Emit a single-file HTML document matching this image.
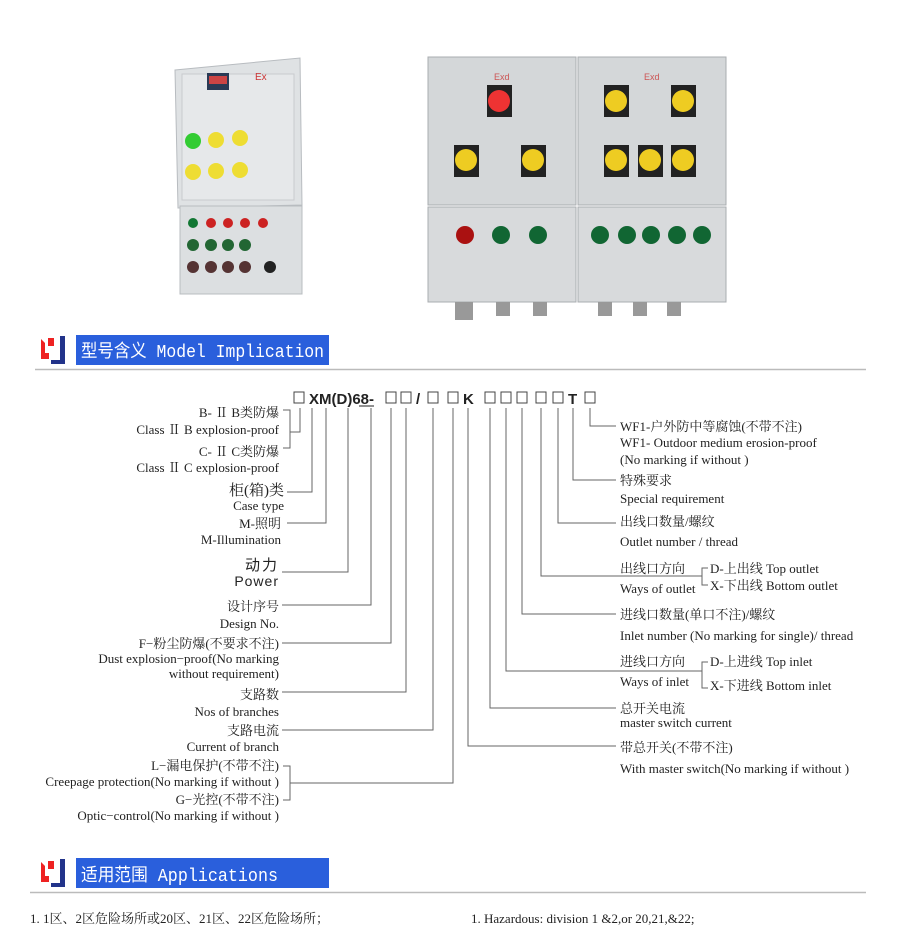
<!DOCTYPE html>
<html><head><meta charset="utf-8"><style>
html,body{margin:0;padding:0;background:#fff;}
svg{display:block}
.s{font-family:"Liberation Serif","Noto Serif CJK SC",serif;font-size:13px;fill:#222}
.h{font-family:"Liberation Mono","Noto Sans CJK SC",monospace;font-size:18px;fill:#fff}
</style></head><body>
<svg width="900" height="931" viewBox="0 0 900 931" xmlns="http://www.w3.org/2000/svg">
<g>
<polygon points="175,70 300,58 302,205 178,208" fill="#dfe2e4" stroke="#b8bcc0"/>
<rect x="182" y="74" width="112" height="126" fill="#e6e8ea" stroke="#c8cbce"/>
<rect x="207" y="73" width="22" height="17" fill="#2a3a55"/>
<rect x="209" y="76" width="18" height="8" fill="#c44"/>
<text x="255" y="80" fill="#c33" font-size="10" font-family="Liberation Sans">Ex</text>
<circle cx="193" cy="141" r="8" fill="#3c3"/><circle cx="216" cy="140" r="8" fill="#ed3"/><circle cx="240" cy="138" r="8" fill="#ed3"/>
<circle cx="193" cy="172" r="8" fill="#ed3"/><circle cx="216" cy="171" r="8" fill="#ed3"/><circle cx="240" cy="170" r="8" fill="#ed3"/>
<rect x="180" y="206" width="122" height="88" fill="#dcdfe1" stroke="#b8bcc0"/>
<g fill="#c22"><circle cx="211" cy="223" r="5"/><circle cx="228" cy="223" r="5"/><circle cx="245" cy="223" r="5"/><circle cx="263" cy="223" r="5"/></g>
<circle cx="193" cy="223" r="5" fill="#173"/>
<g fill="#263"><circle cx="193" cy="245" r="6"/><circle cx="211" cy="245" r="6"/><circle cx="228" cy="245" r="6"/><circle cx="245" cy="245" r="6"/></g>
<g fill="#533"><circle cx="193" cy="267" r="6"/><circle cx="211" cy="267" r="6"/><circle cx="228" cy="267" r="6"/><circle cx="245" cy="267" r="6"/><circle cx="270" cy="267" r="6" fill="#222"/></g>
</g>
<g>
<rect x="428" y="57" width="148" height="148" fill="#d4d7d9" stroke="#a9adb0"/>
<rect x="578" y="57" width="148" height="148" fill="#d4d7d9" stroke="#a9adb0"/>
<rect x="428" y="207" width="148" height="95" fill="#d8dadc" stroke="#a9adb0"/>
<rect x="578" y="207" width="148" height="95" fill="#d8dadc" stroke="#a9adb0"/>
<text x="494" y="80" fill="#c55" font-size="9" font-family="Liberation Sans">Exd</text>
<text x="644" y="80" fill="#c55" font-size="9" font-family="Liberation Sans">Exd</text>
<rect x="487" y="85" width="25" height="32" fill="#222"/><circle cx="499" cy="101" r="11" fill="#e33"/>
<rect x="454" y="145" width="25" height="32" fill="#222"/><circle cx="466" cy="160" r="11" fill="#ec2"/>
<rect x="521" y="145" width="25" height="32" fill="#222"/><circle cx="533" cy="160" r="11" fill="#ec2"/>
<rect x="604" y="85" width="25" height="32" fill="#222"/><circle cx="616" cy="101" r="11" fill="#ec2"/>
<rect x="671" y="85" width="25" height="32" fill="#222"/><circle cx="683" cy="101" r="11" fill="#ec2"/>
<rect x="604" y="145" width="25" height="32" fill="#222"/><circle cx="616" cy="160" r="11" fill="#ec2"/>
<rect x="638" y="145" width="25" height="32" fill="#222"/><circle cx="650" cy="160" r="11" fill="#ec2"/>
<rect x="671" y="145" width="25" height="32" fill="#222"/><circle cx="683" cy="160" r="11" fill="#ec2"/>
<circle cx="465" cy="235" r="9" fill="#a11"/><circle cx="501" cy="235" r="9" fill="#163"/><circle cx="538" cy="235" r="9" fill="#163"/>
<circle cx="600" cy="235" r="9" fill="#163"/><circle cx="627" cy="235" r="9" fill="#163"/><circle cx="651" cy="235" r="9" fill="#163"/><circle cx="677" cy="235" r="9" fill="#163"/><circle cx="702" cy="235" r="9" fill="#163"/>
<g fill="#999"><rect x="455" y="302" width="18" height="18"/><rect x="496" y="302" width="14" height="14"/><rect x="533" y="302" width="14" height="14"/><rect x="598" y="302" width="14" height="14"/><rect x="633" y="302" width="14" height="14"/><rect x="667" y="302" width="14" height="14"/></g>
</g>

<path d="M41 339 v20 h8 v-6 h-4 v-10 z M48 338 h6 v8 h-6 z" fill="#e22"/>
<path d="M60 336 h5 v28 h-14 v-4 h9 z" fill="#22338a"/>
<rect x="76" y="335" width="253" height="30" fill="#2a5fdc"/>
<text x="81" y="357" class="h" textLength="243" lengthAdjust="spacingAndGlyphs">型号含义 Model Implication</text>
<line x1="35" y1="369.5" x2="866" y2="369.5" stroke="#bbb" stroke-width="1.5"/>

<g font-family="Liberation Sans" font-size="15" font-weight="bold" fill="#222">
<text x="309" y="404">XM(D)68-</text>
<text x="416" y="404">/</text><text x="463" y="404">K</text><text x="568" y="404">T</text>
</g>
<line x1="359" y1="406" x2="374" y2="406" stroke="#222"/>
<g fill="none" stroke="#444" stroke-width="1">
<rect x="294" y="392" width="10" height="11"/><rect x="386" y="392" width="10" height="11"/><rect x="401" y="392" width="10" height="11"/>
<rect x="428" y="392" width="10" height="11"/><rect x="448" y="392" width="10" height="11"/>
<rect x="485" y="392" width="10" height="11"/><rect x="501" y="392" width="10" height="11"/><rect x="517" y="392" width="10" height="11"/><rect x="536" y="392" width="10" height="11"/><rect x="553" y="392" width="10" height="11"/>
<rect x="585" y="392" width="10" height="11"/>
</g>
<g fill="none" stroke="#666" stroke-width="1">
<path d="M300 408 V432 H290"/>
<path d="M283 410 H290 V448 H283"/>
<path d="M312 408 V492 H287"/>
<path d="M326 408 V523 H287"/>
<path d="M348 408 V572 H282"/>
<path d="M371 408 V605 H282"/>
<path d="M391 408 V643 H282"/>
<path d="M406 408 V692 H282"/>
<path d="M433 408 V730 H282"/>
<path d="M453 408 V783 H290"/>
<path d="M283 766 H290 V800 H283"/>
<path d="M468 408 V746 H616"/>
<path d="M490 408 V708 H616"/>
<path d="M506 408 V671 H702"/>
<path d="M708 662 H702 V688 H708"/>
<path d="M522 408 V614 H616"/>
<path d="M541 408 V576 H702"/>
<path d="M708 568 H702 V585 H708"/>
<path d="M558 408 V523 H616"/>
<path d="M573 408 V480 H616"/>
<path d="M590 408 V426 H616"/>
</g>
<g class="s" text-anchor="end">
<text x="279" y="417">B- Ⅱ B类防爆</text>
<text x="279" y="434">Class Ⅱ B  explosion-proof</text>
<text x="279" y="456">C- Ⅱ C类防爆</text>
<text x="279" y="472">Class Ⅱ C  explosion-proof</text>
<text x="284" y="495" font-size="15">柜(箱)类</text>
<text x="284" y="510">Case type</text>
<text x="281" y="528">M-照明</text>
<text x="281" y="544">M-Illumination</text>
<text x="279" y="570" font-family="Liberation Sans,Noto Sans CJK SC,sans-serif" font-size="15" letter-spacing="2">动力</text>
<text x="279" y="586" font-family="Liberation Sans,sans-serif" font-size="14" letter-spacing="1">Power</text>
<text x="279" y="611">设计序号</text>
<text x="279" y="628">Design No.</text>
<text x="279" y="648">F−粉尘防爆(不要求不注)</text>
<text x="279" y="663">Dust explosion−proof(No marking</text>
<text x="279" y="678">without requirement)</text>
<text x="279" y="699">支路数</text>
<text x="279" y="716">Nos of branches</text>
<text x="279" y="735">支路电流</text>
<text x="279" y="751">Current of branch</text>
<text x="279" y="770">L−漏电保护(不带不注)</text>
<text x="279" y="786">Creepage protection(No marking  if without )</text>
<text x="279" y="804">G−光控(不带不注)</text>
<text x="279" y="820">Optic−control(No marking  if without )</text>
</g>
<g class="s">
<text x="620" y="431">WF1-户外防中等腐蚀(不带不注)</text>
<text x="620" y="447">WF1- Outdoor medium erosion-proof</text>
<text x="620" y="464">(No marking  if without )</text>
<text x="620" y="485">特殊要求</text>
<text x="620" y="503">Special requirement</text>
<text x="620" y="526">出线口数量/螺纹</text>
<text x="620" y="546">Outlet number / thread</text>
<text x="620" y="573">出线口方向</text>
<text x="620" y="593">Ways of outlet</text>
<text x="710" y="573">D-上出线  Top outlet</text>
<text x="710" y="590">X-下出线  Bottom  outlet</text>
<text x="620" y="619">进线口数量(单口不注)/螺纹</text>
<text x="620" y="640">Inlet number (No marking for single)/ thread</text>
<text x="620" y="666">进线口方向</text>
<text x="620" y="686">Ways of inlet</text>
<text x="710" y="666">D-上进线  Top inlet</text>
<text x="710" y="690">X-下进线  Bottom  inlet</text>
<text x="620" y="713">总开关电流</text>
<text x="620" y="727">master switch current</text>
<text x="620" y="752">带总开关(不带不注)</text>
<text x="620" y="773">With master switch(No marking  if without )</text>
</g>

<path d="M41 862 v20 h8 v-6 h-4 v-10 z M48 861 h6 v8 h-6 z" fill="#e22"/>
<path d="M60 859 h5 v28 h-14 v-4 h9 z" fill="#22338a"/>
<rect x="76" y="858" width="253" height="30" fill="#2a5fdc"/>
<text x="81" y="881" class="h" textLength="197" lengthAdjust="spacingAndGlyphs">适用范围 Applications</text>
<line x1="30" y1="892.5" x2="866" y2="892.5" stroke="#bbb" stroke-width="1.5"/>
<text x="30" y="923" class="s" font-size="14.5">1. 1区、2区危险场所或20区、21区、22区危险场所；</text>
<text x="471" y="923" class="s" font-size="14.5">1. Hazardous: division 1 &amp;2,or 20,21,&amp;22;</text>
</svg>
</body></html>
